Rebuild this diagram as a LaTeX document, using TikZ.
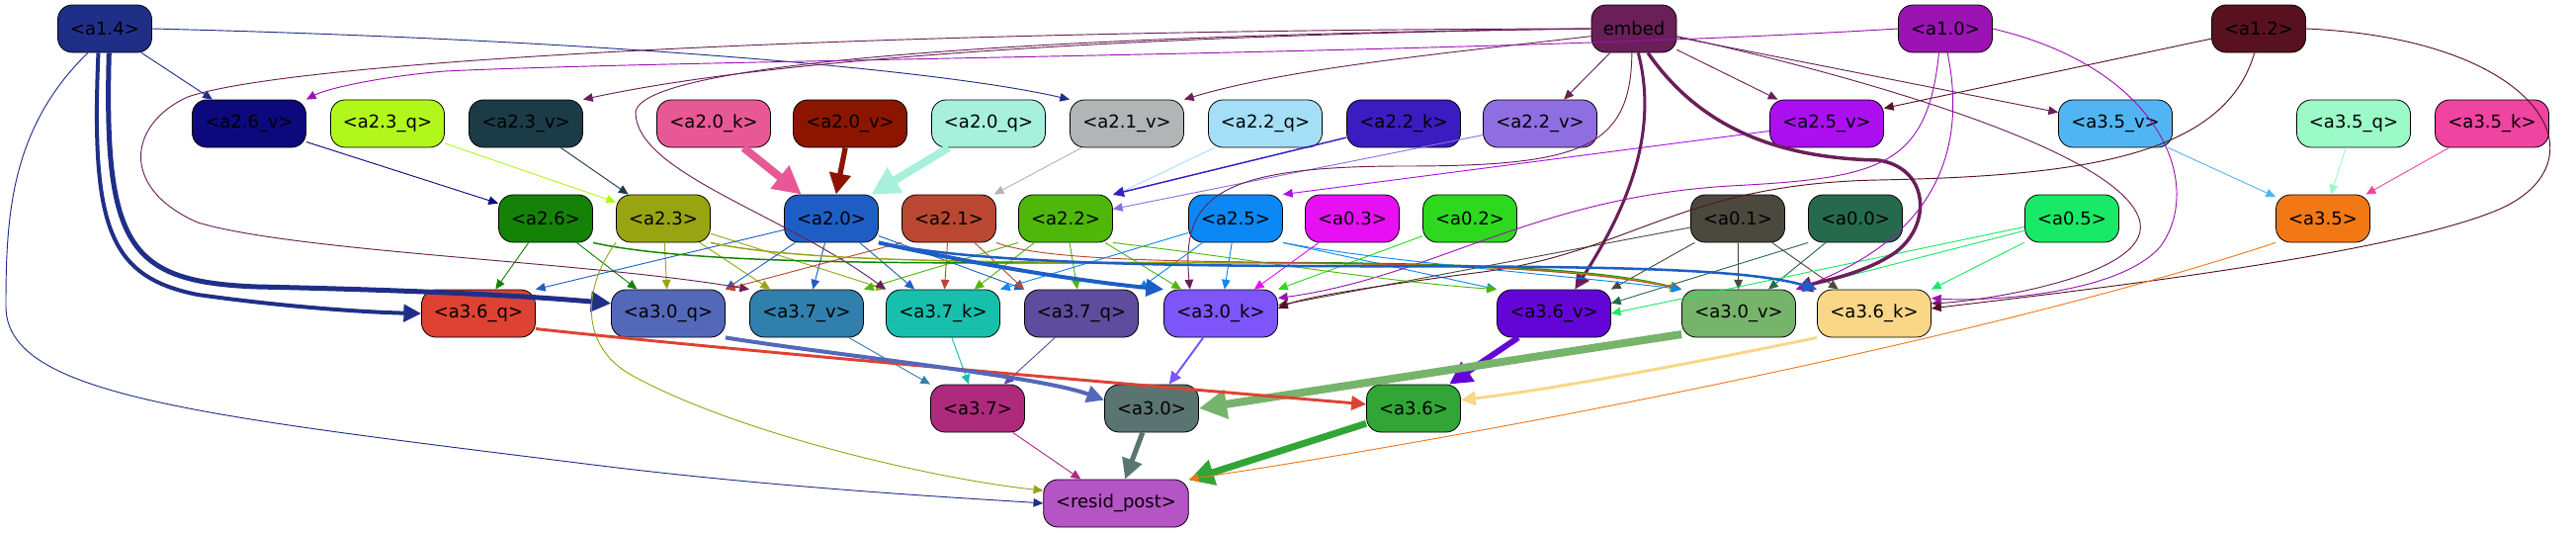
\documentclass[tikz,border=0pt]{standalone}
\usepackage{fontspec}
\setmainfont{DejaVu Sans}
\usetikzlibrary{arrows.meta}
\definecolor{c14}{HTML}{1F2F88}
\definecolor{cembed}{HTML}{6A1F58}
\definecolor{c10}{HTML}{9B13B3}
\definecolor{c12}{HTML}{58121F}
\definecolor{c26v}{HTML}{0C097D}
\definecolor{c23q}{HTML}{B2F71B}
\definecolor{c23v}{HTML}{1B3C47}
\definecolor{c20k}{HTML}{E85894}
\definecolor{c20v}{HTML}{8C1500}
\definecolor{c20q}{HTML}{A6F0DC}
\definecolor{c21v}{HTML}{B2B5B5}
\definecolor{c22q}{HTML}{A4DFF7}
\definecolor{c22k}{HTML}{3A1CC1}
\definecolor{c22v}{HTML}{8F6EE1}
\definecolor{c25v}{HTML}{AB0FF0}
\definecolor{c35v}{HTML}{52B5F3}
\definecolor{c35q}{HTML}{9BFAC8}
\definecolor{c35k}{HTML}{EF44A0}
\definecolor{c26}{HTML}{138206}
\definecolor{c23}{HTML}{98A412}
\definecolor{c20}{HTML}{1E5EC4}
\definecolor{c21}{HTML}{BA4731}
\definecolor{c22}{HTML}{4EB70A}
\definecolor{c25}{HTML}{0B88F3}
\definecolor{c03}{HTML}{E610F2}
\definecolor{c02}{HTML}{2DD81F}
\definecolor{c01}{HTML}{4B493E}
\definecolor{c00}{HTML}{266A4D}
\definecolor{c05}{HTML}{18E966}
\definecolor{c35}{HTML}{F27816}
\definecolor{c36q}{HTML}{DE4232}
\definecolor{c30q}{HTML}{5468BA}
\definecolor{c37v}{HTML}{317FAC}
\definecolor{c37k}{HTML}{17BFAC}
\definecolor{c37q}{HTML}{5E4C9E}
\definecolor{c30k}{HTML}{7E55F8}
\definecolor{c36v}{HTML}{6405D8}
\definecolor{c30v}{HTML}{76B46B}
\definecolor{c36k}{HTML}{FAD687}
\definecolor{c37}{HTML}{AE2A7D}
\definecolor{c30}{HTML}{5A7471}
\definecolor{c36}{HTML}{31A636}
\definecolor{cresid}{HTML}{B554C4}
\tikzset{
  box/.style={draw=black, line width=0.6pt, rounded corners=11pt, minimum height=36pt,
    minimum width=71.25pt, inner xsep=1pt, inner ysep=0pt, font=\fontsize{13.5}{16}\selectfont},
  wide/.style={minimum width=86.25pt},
  flow/.style={-{Triangle[length=5.5pt 2.6, width=4.5pt 2.8]}, line width=0.7pt},
}

\begin{document}
\begin{tikzpicture}[x=0.75pt, y=-0.75pt]
\useasboundingbox (0,0) rectangle (2606,539);

\node[box, fill=c14] (a14) at (106,29) {<a1.4>};
\node[box, fill=cembed, minimum width=64.5pt] (embed) at (1653,29) {embed};
\node[box, fill=c10] (a10) at (1968,29) {<a1.0>};
\node[box, fill=c12] (a12) at (2285,29) {<a1.2>};

\node[box, wide, fill=c26v] (a26v) at (252,125) {<a2.6\_v>};
\node[box, wide, fill=c23q] (a23q) at (392,125) {<a2.3\_q>};
\node[box, wide, fill=c23v] (a23v) at (532,125) {<a2.3\_v>};
\node[box, wide, fill=c20k] (a20k) at (722,125) {<a2.0\_k>};
\node[box, wide, fill=c20v] (a20v) at (860,125) {<a2.0\_v>};
\node[box, wide, fill=c20q] (a20q) at (1000,125) {<a2.0\_q>};
\node[box, wide, fill=c21v] (a21v) at (1140,125) {<a2.1\_v>};
\node[box, wide, fill=c22q] (a22q) at (1280,125) {<a2.2\_q>};
\node[box, wide, fill=c22k] (a22k) at (1420,125) {<a2.2\_k>};
\node[box, wide, fill=c22v] (a22v) at (1558,125) {<a2.2\_v>};
\node[box, wide, fill=c25v] (a25v) at (1848,125) {<a2.5\_v>};
\node[box, wide, fill=c35v] (a35v) at (2140,125) {<a3.5\_v>};
\node[box, wide, fill=c35q] (a35q) at (2381,125) {<a3.5\_q>};
\node[box, wide, fill=c35k] (a35k) at (2521,125) {<a3.5\_k>};

\node[box, fill=c26] (a26) at (552,221) {<a2.6>};
\node[box, fill=c23] (a23) at (671,221) {<a2.3>};
\node[box, fill=c20] (a20) at (841,221) {<a2.0>};
\node[box, fill=c21] (a21) at (960,221) {<a2.1>};
\node[box, fill=c22] (a22) at (1078,221) {<a2.2>};
\node[box, fill=c25] (a25) at (1250,221) {<a2.5>};
\node[box, fill=c03] (a03) at (1368,221) {<a0.3>};
\node[box, fill=c02] (a02) at (1487,221) {<a0.2>};
\node[box, fill=c01] (a01) at (1758,221) {<a0.1>};
\node[box, fill=c00] (a00) at (1877,221) {<a0.0>};
\node[box, fill=c05] (a05) at (2096,221) {<a0.5>};
\node[box, fill=c35] (a35) at (2350,221) {<a3.5>};

\node[box, wide, fill=c36q] (a36q) at (484,317) {<a3.6\_q>};
\node[box, wide, fill=c30q] (a30q) at (676,317) {<a3.0\_q>};
\node[box, wide, fill=c37v] (a37v) at (816,317) {<a3.7\_v>};
\node[box, wide, fill=c37k] (a37k) at (954,317) {<a3.7\_k>};
\node[box, wide, fill=c37q] (a37q) at (1094,317) {<a3.7\_q>};
\node[box, wide, fill=c30k] (a30k) at (1235,317) {<a3.0\_k>};
\node[box, wide, fill=c36v] (a36v) at (1572,317) {<a3.6\_v>};
\node[box, wide, fill=c30v] (a30v) at (1759,317) {<a3.0\_v>};
\node[box, wide, fill=c36k] (a36k) at (1896,317) {<a3.6\_k>};

\node[box, fill=c37] (a37) at (989,413) {<a3.7>};
\node[box, fill=c30] (a30) at (1165,413) {<a3.0>};
\node[box, fill=c36] (a36) at (1430,413) {<a3.6>};

\node[box, fill=cresid, minimum width=110pt] (resid) at (1129,509) {<resid\_post>};

\begin{scope}[every edge/.style={draw, flow}]
\path
(a14) edge[c14] (a26v)
(embed) edge[cembed] (a22v)
(embed) edge[cembed] (a25v)
(embed) edge[cembed] (a35v)
(a12) edge[c12] (a25v.15)

(a26v) edge[c26v] (a26)
(a23q) edge[c23q] (a23)
(a23v) edge[c23v] (a23)
(a20k) edge[c20k, line width=6pt] (a20)
(a20v) edge[c20v, line width=4pt] (a20)
(a20q) edge[c20q, line width=6pt] (a20)
(a21v) edge[c21v] (a21)
(a22q) edge[c22q] (a22)
(a22k) edge[c22k, line width=1.1pt] (a22.north east)
(a22v) edge[c22v] (a22)
(a25v) edge[c25v] (a25.north east)
(a35v) edge[c35v] (a35)
(a35q) edge[c35q] (a35)
(a35k) edge[c35k] (a35)

(a26) edge[c26] (a36q)
(a26) edge[c26] (a30q)
(a23) edge[c23] (a30q)
(a23) edge[c23] (a37v)
(a23) edge[c23] (a37k.north west)
(a20) edge[c20] (a36q.north east)
(a20) edge[c20] (a30q.north east)
(a20) edge[c20] (a37v)
(a20) edge[c20] (a37k)
(a20) edge[c20] (a37q.north west)
(a21.south west) edge[c21] (a30q.north east)
(a21) edge[c21] (a37k)
(a21) edge[c21] (a37q.north west)
(a22.south west) edge[c22] (a37v.north east)
(a22) edge[c22] (a37k)
(a22) edge[c22] (a37q)
(a22) edge[c22] (a30k)
(a25) edge[c25] (a37k.north east)
(a25) edge[c25] (a37q.north east)
(a25) edge[c25] (a30k)
(a25.south east) edge[c25] (a36v.north west)
(a03) edge[c03] (a30k)
(a02) edge[c02] (a30k.north east)
(a01) edge[c01] (a30k.8)
(a01) edge[c01] (a36v.north east)
(a01) edge[c01] (a30v)
(a01) edge[c01] (a36k.146)
(a00.south west) edge[c00] (a36v.10)
(a00) edge[c00] (a30v)
(a05.190) edge[c05] (a36v.east)
(a05) edge[c05] (a30v.north east)
(a05) edge[c05] (a36k.north east)

(a37v) edge[c37v] (a37.north west)
(a37k) edge[c37k] (a37)
(a37q) edge[c37q] (a37)
(a30k) edge[c30k, line width=1.5pt] (a30)
(a36v) edge[c36v, line width=4.5pt] (a36)
(a30v.200) edge[c30v, line width=6pt] (a30.east)

(a37) edge[c37] (resid)
(a30) edge[c30, line width=3.8pt] (resid)
(a36) edge[c36, line width=5.2pt] (resid);
\end{scope}

\draw[flow, c14] (a14.east) .. controls (600,40) and (950,70) .. (a21v.north west);
\draw[flow, c14, line width=3pt] (a14.255) .. controls (92,230) and (110,280) .. (200,298) .. controls (300,312) and (380,316) .. (a36q.west);
\draw[flow, c14, line width=3.75pt] (a14.280) .. controls (105,250) and (130,285) .. (260,290) .. controls (400,293) and (520,298) .. (a30q.170);
\draw[flow, c14] (a14.235) .. controls (10,130) and (6,220) .. (6,310) .. controls (6,400) and (200,420) .. (600,470) .. controls (800,495) and (1000,505) .. (resid.west);

\draw[flow, cembed] (embed.west) .. controls (1200,35) and (800,55) .. (a23v.north east);
\draw[flow, cembed] (embed.190) .. controls (1450,55) and (1300,70) .. (a21v.north east);
\draw[flow, cembed] (embed.west) .. controls (900,30) and (300,60) .. (190,98) .. controls (130,125) and (120,190) .. (200,225) .. controls (300,255) and (600,265) .. (a37v.north west);
\draw[flow, cembed] (embed.west) .. controls (1100,35) and (640,60) .. (643,115) .. controls (646,175) and (790,215) .. (a37k.north west);
\draw[flow, cembed] (embed.265) .. controls (1650,150) and (1600,168) .. (1420,168) .. controls (1230,168) and (1195,200) .. (a30k.142);
\draw[flow, cembed] (embed.350) .. controls (1850,70) and (2150,150) .. (2165,225) .. controls (2175,280) and (2000,305) .. (a36k.10);
\draw[flow, cembed, line width=2.3pt] (embed.280) .. controls (1680,140) and (1640,220) .. (a36v.49);
\draw[flow, cembed, line width=2.6pt] (embed.300) .. controls (1720,130) and (1800,160) .. (1900,162) .. controls (1955,170) and (1955,235) .. (1910,260) .. controls (1880,278) and (1840,285) .. (a30v.north east);

\draw[flow, c10] (a10.west) .. controls (1500,55) and (700,60) .. (450,72) .. controls (380,78) and (330,90) .. (a26v.north east);
\draw[flow, c10] (a10.255) .. controls (1950,170) and (1900,180) .. (1750,188) .. controls (1550,200) and (1450,280) .. (a30k.15);
\draw[flow, c10] (a10.275) .. controls (1990,150) and (1960,240) .. (a30v.north east);
\draw[flow, c10] (a10.east) .. controls (2190,70) and (2230,190) .. (2185,250) .. controls (2140,300) and (2000,305) .. (a36k.15);

\draw[flow, c12] (a12.260) .. controls (2250,160) and (2100,178) .. (1900,182) .. controls (1700,186) and (1650,255) .. (1500,275) .. controls (1400,288) and (1320,300) .. (a30k.5);
\draw[flow, c12] (a12.east) .. controls (2580,40) and (2640,170) .. (2520,215) .. controls (2400,262) and (2050,300) .. (a36k.5);

\draw[flow, c26, line width=1.1pt] (a26.south east) .. controls (800,290) and (1500,240) .. (a30v.north west);
\draw[flow, c23, line width=1.1pt] (a23.south east) .. controls (900,285) and (1500,245) .. (a30v.north west);
\draw[flow, c21] (a21.south east) .. controls (1100,280) and (1500,250) .. (a30v.north west);
\draw[flow, c25] (a25.south east) .. controls (1400,265) and (1600,280) .. (a30v.north west);
\draw[flow, c22] (a22.south east) .. controls (1250,260) and (1400,285) .. (a36v.north west);
\draw[flow, c20, line width=3pt] (a20.south east) .. controls (1000,270) and (1100,285) .. (a30k.north west);
\draw[flow, c20, line width=1.9pt] (a20.south east) .. controls (1100,290) and (1700,250) .. (a36k.north west);
\draw[flow, c23] (a23.south west) .. controls (590,290) and (585,350) .. (640,380) .. controls (750,440) and (950,485) .. (resid.170);
\draw[flow, c35] (a35.south west) .. controls (2000,345) and (1500,440) .. (resid.north east);

\draw[flow, c36q, line width=2.2pt] (a36q.345) .. controls (750,355) and (1100,385) .. (a36.175);
\draw[flow, c30q, line width=3pt] (a30q.south east) .. controls (850,360) and (1050,380) .. (a30.170);
\draw[flow, c36k, line width=2.2pt] (a36k.south west) .. controls (1700,370) and (1560,395) .. (a36.10);

\end{tikzpicture}
\end{document}
